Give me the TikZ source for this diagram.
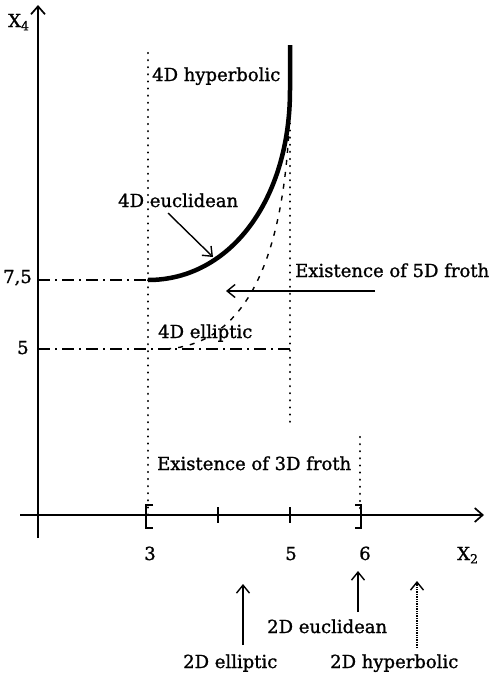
\documentclass[tikz,border=0pt]{standalone}
\usepackage{fontspec}
\setmainfont{DejaVu Serif}[FakeBold=1.2]
\usetikzlibrary{arrows.meta}
\usetikzlibrary{calc}

\begin{document}
\begin{tikzpicture}[x=1pt, y=-1pt, every node/.style={inner sep=0pt, font=\fontsize{18}{20}\selectfont},
    axis/.style={line width=1.9pt, -{Straight Barb[length=8pt,width=14pt,line width=1.7pt]}},
    pointer/.style={line width=1.4pt, -{Straight Barb[length=8pt,width=13pt,line width=1.4pt]}},
    dotline/.style={line width=2.3pt, line cap=round, dash pattern=on 0.1pt off 7pt},
    dashdot/.style={line width=1.9pt, dash pattern=on 12pt off 5pt on 2pt off 5pt},
    dashline/.style={line width=1.4pt, dash pattern=on 5pt off 7pt}]

        \useasboundingbox (0,0) rectangle (496,678);

        \def\xaxis{515} % height of the X2 axis
        \def\yaxis{38} % position of the X4 axis

        % axes
        \coordinate (o1) at (20,\xaxis);
        \coordinate (o2) at (484,\xaxis);
        \coordinate (o3) at (\yaxis,538);
        \coordinate (o4) at (\yaxis,5);
        \draw[axis] (o1) -- (o2);
        \draw[axis] (o3) -- (o4);

        \node[anchor=base west] (x4) at (8,27) {X\textsubscript{4}};
        \node[anchor=base west] (x2) at (457,560) {X\textsubscript{2}};

        % ticks on the X2 axis
        \draw[line width=1.7pt] (153,505) -- (146,505) -- (146,528) -- (153,528);
        \draw[line width=1.7pt] (355,505) -- (361,505) -- (361,528) -- (355,528);
        \foreach \t in {218,290} {
          \draw[line width=1.5pt] (\t,507) -- (\t,523);
        }
        \node[anchor=base] (t3) at (150,560) {3};
        \node[anchor=base] (t5) at (291,560) {5};
        \node[anchor=base] (t6) at (365,560) {6};

        % levels on the X4 axis
        \coordinate (a75) at (\yaxis,280);
        \coordinate (b75) at (148,280);
        \coordinate (a5) at (\yaxis,349);
        \coordinate (b5) at (290,349);
        \draw[dashdot] (a75) -- (b75);
        \draw[dashdot] (a5) -- (b5);
        \node[anchor=base west] (l75) at (3,283) {7,5};
        \node[anchor=base west] (l5) at (17,354) {5};

        % dotted verticals
        \coordinate (v3top) at (148,53);
        \coordinate (v3bot) at (148,\xaxis);
        \coordinate (v5top) at (290,95);
        \coordinate (v5bot) at (290,425);
        \coordinate (v6top) at (360,437);
        \coordinate (v6bot) at (360,\xaxis);
        \draw[dotline] (v3top) -- (v3bot);
        \draw[dotline] (v5top) -- (v5bot);
        \draw[dotline] (v6top) -- (v6bot);

        % 4D curves
        \coordinate (ctop) at (290,45);
        \coordinate (cbend) at (290,90);
        \coordinate (ell) at (165,349);
        \draw[line width=4.5pt] (b75) .. controls (230,280) and (290,200) .. (cbend) -- (ctop);
        \draw[dashline] (290,100) .. controls (287,260) and (245,345) .. (ell);

        \node[anchor=base west] (hyp4) at (152,81) {4D hyperbolic};
        \node[anchor=base west] (euc4) at (118,207) {4D euclidean};
        \node[anchor=base west] (ell4) at (158,338) {4D elliptic};

        \coordinate (eutail) at (168,213);
        \coordinate (eutip) at (213,257);
        \draw[pointer] (eutail) -- (eutip);

        % froth regions
        \node[anchor=base west] (froth5) at (295,277) {Existence of 5D froth};
        \coordinate (f5a) at (375,291);
        \coordinate (f5b) at (226,291);
        \draw[pointer] (f5a) -- (f5b);
        \node[anchor=base west] (froth3) at (157,470) {Existence of 3D froth};

        % 2D cases
        \node[anchor=base west] (ell2) at (183,668) {2D elliptic};
        \node[anchor=base west] (euc2) at (267,633) {2D euclidean};
        \node[anchor=base west] (hyp2) at (330,668) {2D hyperbolic};

        \coordinate (e2a) at (243,645);
        \coordinate (e2b) at (243,584);
        \coordinate (u2a) at (358,612);
        \coordinate (u2b) at (358,571);
        \coordinate (h2a) at (417,648);
        \coordinate (h2b) at (417,581);
        \draw[pointer] (e2a) -- (e2b);
        \draw[pointer] (u2a) -- (u2b);
        \draw[pointer, densely dotted] (h2a) -- (h2b);

      \end{tikzpicture}
\end{document}
